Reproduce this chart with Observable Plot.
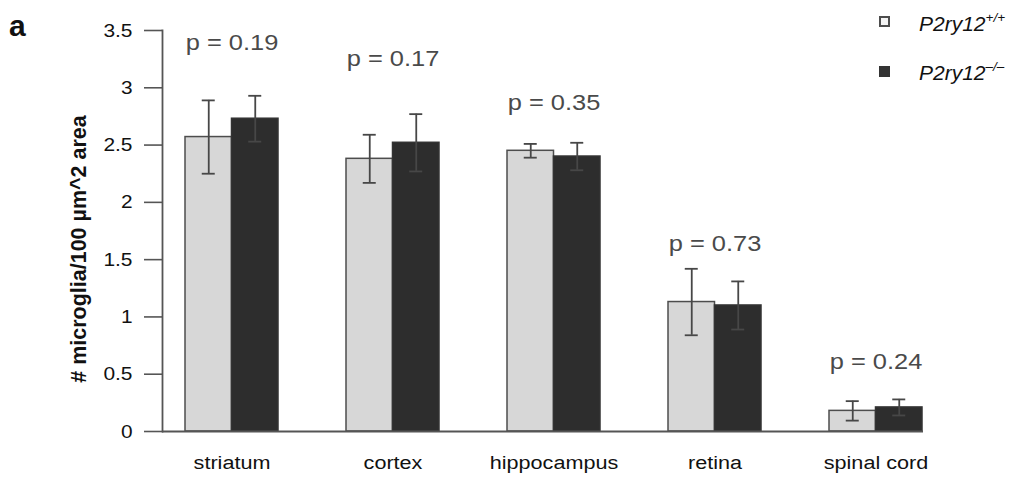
<!DOCTYPE html>
<html>
<head>
<meta charset="utf-8">
<script src="https://cdn.jsdelivr.net/npm/d3@7"></script>
<script src="https://cdn.jsdelivr.net/npm/@observablehq/plot@0.6"></script>
<style>
  body { margin: 0; background: #fff; font-family: "Liberation Sans", Arial, sans-serif; }
  #chart { position: relative; width: 1020px; height: 481px; }
  #chart svg { display: block; }
  .panel { position: absolute; left: 9px; top: 11px; font-size: 30px; font-weight: bold; line-height: 1; color: #111; }
  .legend { position: absolute; left: 879px; top: 0; }
  .swatch { position: absolute; left: 0; width: 11px; height: 11px; box-sizing: border-box; }
  .name { position: absolute; left: 40px; font-size: 21px; font-style: italic; line-height: 1; color: #111; white-space: nowrap; }
  .name span { position: relative; top: -9px; font-size: 13.5px; }
</style>
</head>
<body>
<div id="chart">
  <div class="panel">a</div>
  <div class="legend">
    <div class="swatch" style="top:16px; background:#f4f4f4; border:2.5px solid #4d4d4d;"></div>
    <div class="name" style="top:13px;">P2ry12<span>+/+</span></div>
    <div class="swatch" style="top:66px; background:#333;"></div>
    <div class="name" style="top:62px;">P2ry12<span>–/–</span></div>
  </div>
</div>
<script>
// Microglia density by CNS region, P2ry12 wild type vs knockout (mean ± error)
const categories = ["striatum", "cortex", "hippocampus", "retina", "spinal cord"];
const wtMean = [2.57, 2.38, 2.45, 1.13, 0.18];
const wtErr  = [0.32, 0.21, 0.06, 0.29, 0.085];
const koMean = [2.73, 2.52, 2.40, 1.10, 0.21];
const koErr  = [0.20, 0.25, 0.12, 0.21, 0.07];
const pValues = ["0.19", "0.17", "0.35", "0.73", "0.24"];
const pLabelY = [3.39, 3.25, 2.87, 1.64, 0.61];
const yTicks = [0, 0.5, 1, 1.5, 2, 2.5, 3, 3.5];
const yLabel = "# microglia/100 µm^2 area";

const wt = categories.map((category, i) => ({category, mean: wtMean[i], err: wtErr[i]}));
const ko = categories.map((category, i) => ({category, mean: koMean[i], err: koErr[i]}));
const notes = categories.map((category, i) => ({category, y: pLabelY[i], text: `p = ${pValues[i]}`}));

// each category band holds two adjacent bars
const band = 93, half = band / 2, cap = 6.5;
const errStyle = {stroke: "#474747", strokeWidth: 1.8};

const chart = Plot.plot({
  width: 1020,
  height: 481,
  marginLeft: 162,
  marginRight: 97,
  marginTop: 30,
  marginBottom: 50,
  style: {fontFamily: '"Liberation Sans", Arial, sans-serif', background: "#fff", color: "#222", overflow: "visible"},
  x: {type: "band", domain: categories, range: [183, 923], paddingInner: 0.425, paddingOuter: 0},
  y: {domain: [0, 3.5]},
  marks: [
    Plot.axisY({ticks: yTicks, tickFormat: d => String(d), tickSize: 18, tickPadding: 12, fontSize: 19,
      stroke: "#555", strokeWidth: 1.6, fill: "#111", label: null}),
    Plot.axisX({tickSize: 0, tickPadding: 25, fontSize: 18, fill: "#111", label: null}),
    Plot.frame({anchor: "left", stroke: "#555", strokeWidth: 1.8}),
    Plot.barY(wt, {x: "category", y: "mean", fill: "#d7d7d7", stroke: "#4d4d4d", strokeWidth: 1.5, insetRight: half}),
    Plot.barY(ko, {x: "category", y: "mean", fill: "#2d2d2d", stroke: "#333", strokeWidth: 1.5, insetLeft: half}),
    Plot.ruleY([0], {stroke: "#555", strokeWidth: 1.8}),
    // error bars: stems and caps
    Plot.ruleX(wt, {x: "category", y1: d => d.mean - d.err, y2: d => d.mean + d.err, dx: -half / 2, ...errStyle}),
    Plot.tickY(wt, {x: "category", y: d => d.mean + d.err, insetLeft: half / 2 - cap, insetRight: band - half / 2 - cap, ...errStyle}),
    Plot.tickY(wt, {x: "category", y: d => d.mean - d.err, insetLeft: half / 2 - cap, insetRight: band - half / 2 - cap, ...errStyle}),
    Plot.ruleX(ko, {x: "category", y1: d => d.mean - d.err, y2: d => d.mean + d.err, dx: half / 2, ...errStyle}),
    Plot.tickY(ko, {x: "category", y: d => d.mean + d.err, insetLeft: half + half / 2 - cap, insetRight: half / 2 - cap, ...errStyle}),
    Plot.tickY(ko, {x: "category", y: d => d.mean - d.err, insetLeft: half + half / 2 - cap, insetRight: half / 2 - cap, ...errStyle}),
    // p-values above each region
    Plot.text(notes, {x: "category", y: "y", text: "text", fontSize: 22.5, fill: "#4a4a4a"}),
    // y-axis title
    Plot.text([yLabel], {text: d => d, frameAnchor: "left", textAnchor: "middle", dx: -83, dy: 18, rotate: -90,
      fontSize: 21.5, fontWeight: "bold", fill: "#111"})
  ]
});

document.getElementById("chart").prepend(chart);

// the horizontal labels are set in a slightly wide face
const pTexts = new Set(notes.map(d => d.text));
const tickTexts = new Set(yTicks.map(String));
const catTexts = new Set(categories);
chart.querySelectorAll("text").forEach(t => {
  const s = t.textContent;
  const k = pTexts.has(s) ? 1.13 : catTexts.has(s) ? 1.2 : tickTexts.has(s) ? 1.1 : 1;
  if (k === 1) return;
  const w = t.getComputedTextLength();
  t.setAttribute("textLength", (w * k).toFixed(1));
  t.setAttribute("lengthAdjust", "spacingAndGlyphs");
});
</script>
</body>
</html>
